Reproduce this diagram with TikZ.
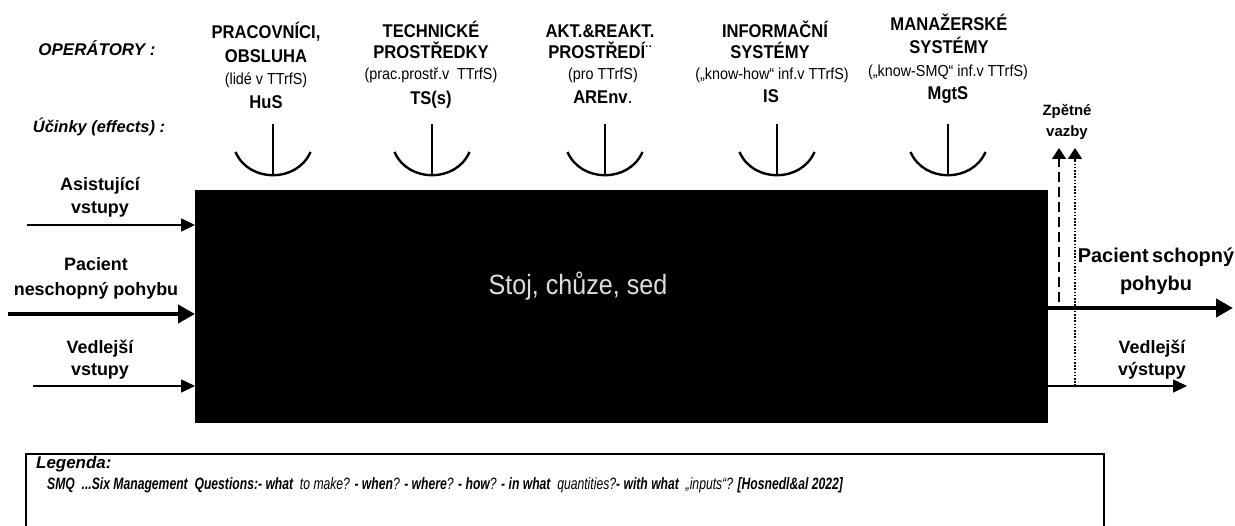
\documentclass[tikz,border=0pt]{standalone}
\usepackage{fontspec}
\setmainfont{Liberation Sans}
\newfontfamily\condfont{Liberation Sans}[FakeStretch=0.9]
\newfontfamily\legfont{Liberation Sans}[FakeStretch=0.74]
\usetikzlibrary{arrows.meta}
\definecolor{proctext}{HTML}{DDDDDD}
\tikzset{
  hb/.style={font=\condfont\bfseries\fontsize{18.5}{20}\selectfont, anchor=base, inner sep=0},
  hs/.style={font=\condfont\fontsize{16}{18}\selectfont, anchor=base, inner sep=0},
  lbl/.style={font=\bfseries\fontsize{18}{23}\selectfont, align=center, inner sep=0},
  ital/.style={font=\bfseries\itshape\fontsize{17}{19}\selectfont, inner sep=0},
  thinarr/.style={line width=1.6bp, -{Triangle[length=14bp,width=13bp]}},
  thickarr/.style={line width=4.5bp, -{Triangle[length=17bp,width=18bp]}},
  fbarr/.style={line width=1.6bp, -{Triangle[length=11bp,width=14bp]}},
  anchorpic/.pic={
    \draw[line width=2.4bp] (0,-51) -- (0,0);
    \draw[line width=2.4bp] (-37.5,-23) .. controls (-24,8) and (24,8) .. (37.5,-23);
  }
}
\begin{document}
\begin{tikzpicture}[x=1bp,y=-1bp]
\useasboundingbox[fill=white] (0,0) rectangle (1235,526);

% process box
\node[fill=black, minimum width=853bp, minimum height=233bp, inner sep=0, anchor=north west] (box) at (195,190) {};
\node[text=proctext, font=\condfont\fontsize{28}{30}\selectfont] (proc) at (578,286) {Stoj, chůze, sed};

% side titles
\node[ital] (oper) at (97,48) {OPERÁTORY :};
\node[ital, font=\bfseries\itshape\fontsize{16.5}{19}\selectfont] (eff) at (99,127) {Účinky (effects) :};

% columns
\node[hb] (c1a) at (266,39) {PRACOVNÍCI,};
\node[hb] (c1b) at (266,63) {OBSLUHA};
\node[hs] (c1c) at (266,85) {(lidé v TTrfS)};
\node[hb] (c1d) at (266,109) {HuS};

\node[hb] (c2a) at (431,38) {TECHNICKÉ};
\node[hb] (c2b) at (431,59) {PROSTŘEDKY};
\node[hs] (c2c) at (431,80) {(prac.prostř.v\ \ TTrfS)};
\node[hb] (c2d) at (431,105) {TS(s)};

\node[hb] (c3a) at (600,38) {AKT.\&REAKT.};
\node[hb] (c3b) at (600,59) {PROSTŘEDÍ\textnormal{¨}};
\node[hs] (c3c) at (603,80) {(pro TTrfS)};
\node[hb] (c3d) at (603,104) {AREnv\textnormal{.}};

\node[hb] (c4a) at (775,38) {INFORMAČNÍ};
\node[hb] (c4b) at (770,59) {SYSTÉMY};
\node[hs] (c4c) at (772,80) {(„know-how“ inf.v TTrfS)};
\node[hb] (c4d) at (771,103) {IS};

\node[hb] (c5a) at (949,31) {MANAŽERSKÉ};
\node[hb] (c5b) at (949,54) {SYSTÉMY};
\node[hs] (c5c) at (948,77) {(„know-SMQ“ inf.v TTrfS)};
\node[hb] (c5d) at (948,100) {MgtS};

% effect symbols
\pic at (273,175) {anchorpic};
\pic at (432,175) {anchorpic};
\pic at (605,175) {anchorpic};
\pic at (777,175) {anchorpic};
\pic at (948,175) {anchorpic};

% inputs
\node[lbl] (inA) at (100,197) {Asistující\\vstupy};
\node[lbl, font=\bfseries\fontsize{18}{25}\selectfont] (inP) at (96,278) {Pacient\\neschopný pohybu};
\node[lbl, font=\bfseries\fontsize{18}{22}\selectfont] (inV) at (100,360) {Vedlejší\\vstupy};
\coordinate (a1) at (27,225);
\coordinate (a2) at (8,314);
\coordinate (a3) at (33,386);
\draw[thinarr] (a1) -- (a1 -| box.west);
\draw[thickarr] (a2) -- (a2 -| box.west);
\draw[thinarr] (a3) -- (a3 -| box.west);

% outputs
\node[lbl, font=\bfseries\fontsize{20}{28}\selectfont] (outP) at (1156,271) {Pacient\hspace{-2bp} schopný\\pohybu};
\node[lbl, font=\bfseries\fontsize{18}{22}\selectfont] (outV) at (1152,360) {Vedlejší\\výstupy};
\coordinate (o1) at (1233,308);
\coordinate (o2) at (1187,386);
\draw[thickarr] (o1 -| box.east) -- (o1);
\draw[thinarr] (o2 -| box.east) -- (o2);

% feedback
\node[lbl, font=\bfseries\fontsize{15}{21}\selectfont] (fb) at (1067,122) {Zpětné\\vazby};
\coordinate (f1s) at (1059,302);
\coordinate (f1e) at (1059,148);
\coordinate (f2s) at (1075,386);
\coordinate (f2e) at (1075,148);
\draw[fbarr, dash pattern=on 10bp off 5bp] (f1s) -- (f1e);
\draw[fbarr, dash pattern=on 1.6bp off 1.6bp] (f2s) -- (f2e);

% legend
\node[draw, line width=1.5bp, anchor=north west, minimum width=1078bp, minimum height=100bp, inner sep=0] (leg) at (25,453) {};
\node[anchor=base west, inner sep=0, font=\bfseries\itshape\fontsize{17}{19}\selectfont] (legT) at (36,468) {Legenda:};
\node[anchor=base west, inner sep=0, font=\legfont\itshape\fontsize{16.5}{18}\selectfont] (legS) at (47,489)
 {\textbf{SMQ\ \ ...Six Management\ \ Questions:- what}\ \ to make? \textbf{- when}? \textbf{- where}? \textbf{- how}? \textbf{- in what}\ \ quantities?\textbf{- with what}\ \ „inputs“? \textbf{[Hosnedl\&al 2022]}};
\end{tikzpicture}
\end{document}
